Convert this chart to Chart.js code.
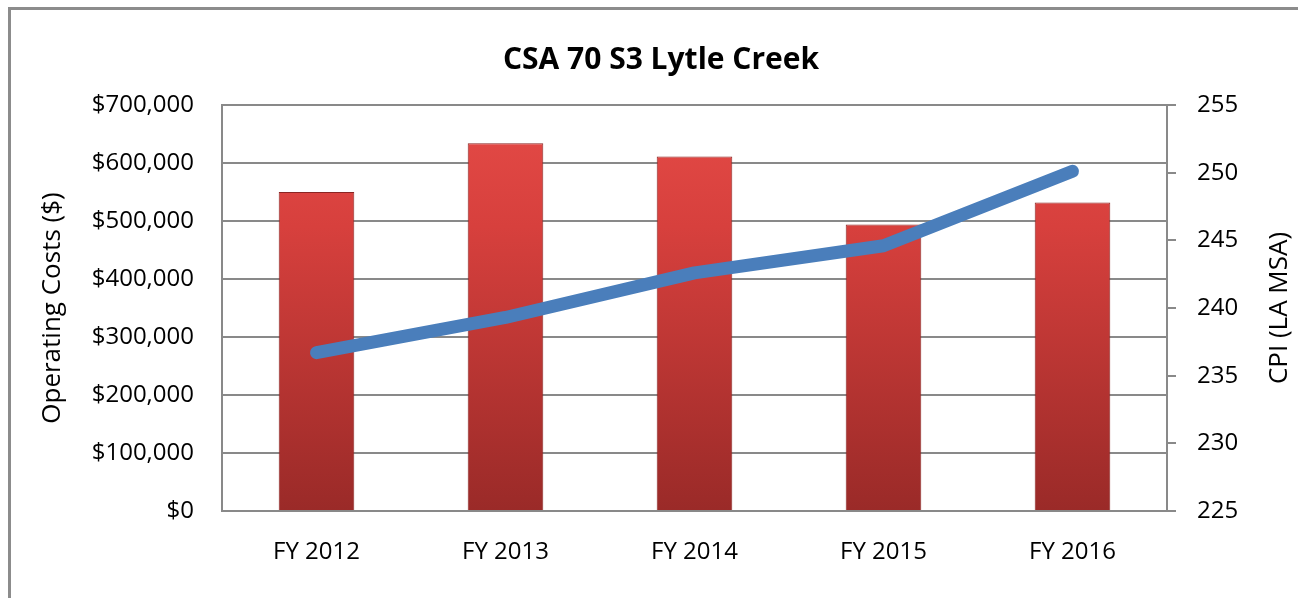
<!DOCTYPE html>
<html>
<head>
<meta charset="utf-8">
<script src="https://cdn.jsdelivr.net/npm/chart.js@4/dist/chart.umd.min.js"></script>
<style>
  html, body { margin: 0; padding: 0; background: #fff; overflow: hidden; }
  #wrap { position: relative; width: 1298px; height: 598px; }
  #frame {
    position: absolute; left: 8px; top: 7px; width: 1400px; height: 700px;
    border-left: 3px solid #8c8c8c; border-top: 3px solid #8c8c8c;
    pointer-events: none;
  }
  canvas { position: absolute; left: 0; top: 0; }
</style>
</head>
<body>
<div id="wrap">
  <canvas id="costChart" width="1298" height="598"></canvas>
  <div id="frame"></div>
</div>
<script>
    'use strict';

    // values
    var years = ['FY 2012', 'FY 2013', 'FY 2014', 'FY 2015', 'FY 2016'];
    var operatingCosts = [550000, 634000, 611000, 494000, 532000];
    var cpiLA = [236.7, 239.3, 242.6, 244.6, 250.1];

    var gridGrey = '#898989';
    var tickFont = { family: 'Open Sans', size: 24 };
    var axisTitleFont = { family: 'Open Sans', size: 26 };

    function barGradient(context) {
        var chart = context.chart;
        var area = chart.chartArea;
        if (!area) {
            return '#c73a37';
        }
        var g = chart.ctx.createLinearGradient(0, area.top, 0, area.bottom);
        g.addColorStop(0, '#e54b47');
        g.addColorStop(0.3, '#d7403d');
        g.addColorStop(1, '#9a2a28');
        return g;
    }

    // Chart.js turns a right-hand title the other way, so this one is drawn by hand
    var rightTitle = {
        id: 'rightTitle',
        afterDraw: function (chart) {
            var c = chart.ctx;
            var area = chart.chartArea;
            c.save();
            c.translate(1280, (area.top + area.bottom) / 2);
            c.rotate(-Math.PI / 2);
            c.fillStyle = '#000';
            c.font = '26px "Open Sans"';
            c.textAlign = 'center';
            c.textBaseline = 'middle';
            c.fillText('CPI (LA MSA)', 0, 0);
            c.restore();
        }
    };

    var ctx = document.getElementById('costChart').getContext('2d');
    var costChart = new Chart(ctx, {
        data: {
            labels: years,
            datasets: [{
                type: 'line',
                label: 'CPI (LA MSA)',
                data: cpiLA,
                yAxisID: 'y1',
                borderColor: '#4a7ebb',
                borderWidth: 13,
                borderCapStyle: 'round',
                borderJoinStyle: 'round',
                pointRadius: 0,
                tension: 0,
                order: 0
            }, {
                type: 'bar',
                label: 'Operating Costs ($)',
                data: operatingCosts,
                yAxisID: 'y',
                backgroundColor: barGradient,
                borderColor: '#8a2523',
                borderWidth: 1,
                barPercentage: 0.4,
                categoryPercentage: 1,
                order: 1
            }]
        },
        options: {
            responsive: false,
            animation: false,
            layout: { padding: { left: 24, right: 0, top: 0, bottom: 0 } },
            plugins: {
                legend: { display: false },
                tooltip: { enabled: false },
                title: {
                    display: true,
                    text: 'CSA 70 S3 Lytle Creek',
                    color: '#000',
                    font: { family: 'Open Sans', size: 30, weight: 'bold', lineHeight: 1.2 },
                    padding: { top: 42, bottom: 27 }
                }
            },
            scales: {
                x: {
                    grid: { display: true, drawOnChartArea: false, drawTicks: false },
                    border: { display: true, color: gridGrey, width: 2 },
                    ticks: { color: '#000', font: tickFont, padding: 27 },
                    afterFit: function (scale) { scale.height = 87; }
                },
                y: {
                    position: 'left',
                    min: 0,
                    max: 700000,
                    grid: { color: gridGrey, lineWidth: 2, drawTicks: false },
                    border: { display: true, color: gridGrey, width: 2 },
                    ticks: {
                        stepSize: 100000,
                        color: '#000',
                        font: tickFont,
                        padding: 28,
                        callback: function (v) { return '$' + v.toLocaleString('en-US'); }
                    },
                    title: {
                        display: true,
                        text: 'Operating Costs ($)',
                        color: '#000',
                        font: axisTitleFont,
                        padding: { top: 13, bottom: 0 }
                    },
                    afterFit: function (scale) { scale.width = 198; }
                },
                y1: {
                    position: 'right',
                    min: 225,
                    max: 255,
                    grid: { drawOnChartArea: false, drawTicks: true, tickLength: 9, color: gridGrey, lineWidth: 2 },
                    border: { display: true, color: gridGrey, width: 2 },
                    ticks: { stepSize: 5, color: '#000', font: tickFont, padding: 21 },
                    afterFit: function (scale) { scale.width = 131; }
                }
            }
        },
        plugins: [rightTitle]
    });
</script>
</body>
</html>
